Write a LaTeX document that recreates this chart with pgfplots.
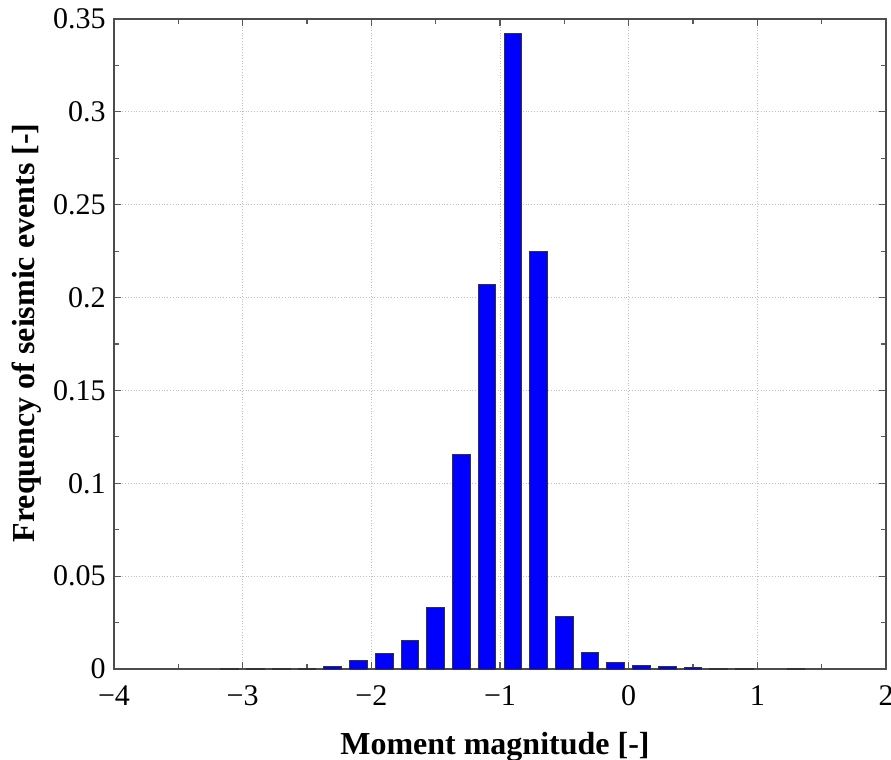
\documentclass[border=0pt]{standalone}
\usepackage{fontspec}
\setmainfont{Liberation Serif}
\usepackage{pgfplots}
\pgfplotsset{compat=1.18}
\begin{document}
\fontsize{15pt}{18pt}\selectfont
\begin{tikzpicture}
\begin{axis}[
  scale only axis,
  width=386pt, height=325pt,
  xmin=-4, xmax=2, ymin=0, ymax=0.35,
  xtick={-4,-3,-2,-1,0,1,2},
  xticklabels={−4,−3,−2,−1,0,1,2},
  ytick={0,0.05,0.1,0.15,0.2,0.25,0.3,0.35},
  yticklabels={0,0.05,0.1,0.15,0.2,0.25,0.3,0.35},
  minor xtick={-3.5,-2.5,-1.5,-0.5,0.5,1.5},
  minor ytick={0.025,0.075,0.125,0.175,0.225,0.275,0.325},
  tick align=inside,
  tick pos=both,
  major tick length=3.5pt, minor tick length=2.5pt,
  tick style={gray!70!black, line width=0.6pt},
  axis line style={gray!60!black, line width=0.8pt},
  xmajorgrids, ymajorgrids,
  major grid style={densely dotted, gray!50, line width=0.5pt},
  xlabel={\bfseries Moment magnitude [-]},
  ylabel={\bfseries Frequency of seismic events [-]},
  label style={font=\fontsize{16pt}{19pt}\selectfont},
  xlabel style={at={(axis description cs:0.4935,-0.1323)}, anchor=base},
  ylabel style={at={(axis description cs:-0.1036,0.517)}, anchor=base, rotate=0},
  ticklabel style={font=\fontsize{15pt}{18pt}\selectfont},
  xticklabel style={yshift=-3pt},
  yticklabel style={xshift=1pt},
]
\addplot[ybar, bar width=0.137, fill={rgb,255:red,0;green,0;blue,255}, draw=gray!40!black, line width=0.5pt]
coordinates {
(-3.1,0.00005) (-2.9,0.0001) (-2.7,0.0002) (-2.5,0.0005) (-2.3,0.0011)
(-2.1,0.0046) (-1.9,0.0086) (-1.7,0.0154) (-1.5,0.0331) (-1.3,0.1154)
(-1.1,0.2071) (-0.9,0.342) (-0.7,0.2250) (-0.5,0.0285) (-0.3,0.0089)
(-0.1,0.0036) (0.1,0.0019) (0.3,0.0014) (0.5,0.0007) (0.7,0.0002)
(0.9,0.0002) (1.3,0.0001)
};
\end{axis}
\pgfresetboundingbox
\path[use as bounding box] ([xshift=-57pt,yshift=-45pt]current axis.south west) rectangle ([xshift=2.5pt,yshift=9.5pt]current axis.north east);
\end{tikzpicture}
\end{document}
